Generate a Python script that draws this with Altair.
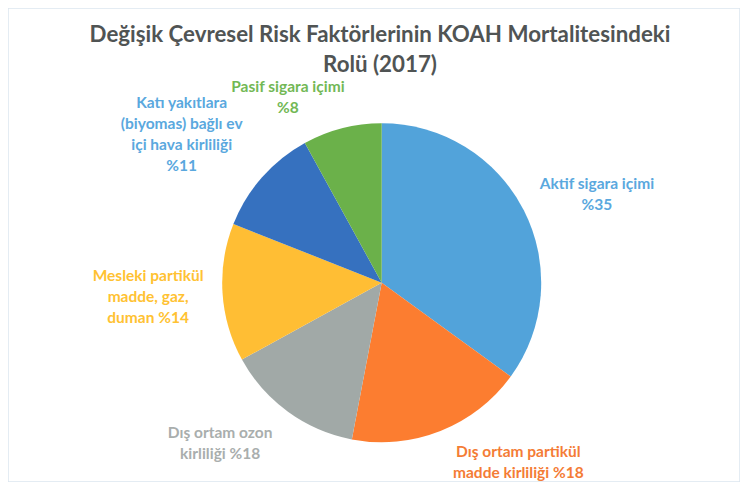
import altair as alt
import pandas as pd

categories = [
    "Aktif sigara içimi",
    "Dış ortam partikül madde kirliliği",
    "Dış ortam ozon kirliliği",
    "Mesleki partikül madde, gaz, duman",
    "Katı yakıtlara (biyomas) bağlı ev içi hava kirliliği",
    "Pasif sigara içimi",
]
values = [35, 18, 14, 14, 11, 8]
labels = [
    "Aktif sigara içimi\n%35",
    "Dış ortam partikül\nmadde kirliliği %18",
    "Dış ortam ozon\nkirliliği %18",
    "Mesleki partikül\nmadde, gaz,\nduman %14",
    "Katı yakıtlara\n(biyomas) bağlı ev\niçi hava kirliliği\n%11",
    "Pasif sigara içimi\n%8",
]
slice_colors = ["#52A3DA", "#FC7D30", "#A1A9A7", "#FFBE34", "#3671BF", "#6BB14A"]
label_colors = ["#5AA8DE", "#F47C36", "#A9AEAD", "#FFC232", "#5AA8DE", "#72B855"]

df = pd.DataFrame({
    "cat": categories,
    "value": values,
    "label": labels,
    "order": list(range(len(categories))),
})

# label nudges (style) relative to the slice mid-angle anchor
nudges = {
    categories[0]: (37, -8),
    categories[1]: (63, -16.5),
    categories[2]: (-44, -12),
    categories[3]: (-34, -19.5),
    categories[4]: (-50, -47.5),
    categories[5]: (-44, -1.5),
}

CX, CY, R = 373.7, 274.7, 159.5

pie = alt.Chart(df).mark_arc(outerRadius=R, strokeWidth=0).encode(
    theta=alt.Theta("value:Q", stack=True),
    order=alt.Order("order:Q"),
    x=alt.value(CX),
    y=alt.value(CY),
    color=alt.Color("cat:N", scale=alt.Scale(domain=categories, range=slice_colors), legend=None),
)

lab_base = alt.Chart(df).transform_window(
    cum="sum(value)", sort=[alt.SortField("order")], frame=[None, 0]
).transform_calculate(mid="datum.cum - datum.value / 2")

layers = [pie]
for cat, col in zip(categories, label_colors):
    dx, dy = nudges[cat]
    layers.append(
        lab_base.transform_filter(alt.datum.cat == cat).mark_text(
            radius=200, dx=dx, dy=dy, font="Lato", fontSize=15.5, fontWeight="bold",
            lineBreak="\n", lineHeight=21, align="center", baseline="middle", color=col,
        ).encode(
            theta=alt.Theta("mid:Q", stack=None),
            x=alt.value(CX),
            y=alt.value(CY),
            text="label:N",
        )
    )

chart = alt.layer(*layers).resolve_scale(theta="shared").properties(
    width=732,
    height=474,
    padding={"left": 0, "top": 0, "right": 0, "bottom": 0},
    title=alt.TitleParams(
        text=["Değişik Çevresel Risk Faktörlerinin KOAH Mortalitesindeki", "Rolü (2017)"],
        font="Lato", fontSize=22.3, fontWeight="bold", color="#505454",
        lineHeight=30, anchor="middle", offset=-68, dx=6,
    ),
).configure_view(stroke="#DCE6EF", strokeWidth=1.5)

chart.save("out.html", embed_options={"renderer": "svg", "actions": False})
